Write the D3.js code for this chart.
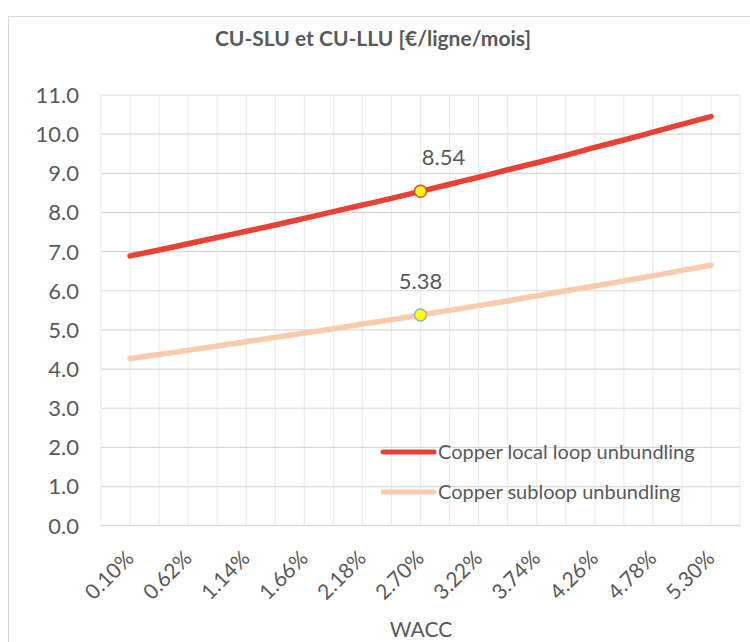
<!DOCTYPE html>
<html>
<head>
<meta charset="utf-8">
<script src="https://cdn.jsdelivr.net/npm/d3@7"></script>
<style>
  body { margin: 0; background: #fff; }
  text { font-family: Lato, "Open Sans", sans-serif; fill: #595959; }
</style>
</head>
<body>
<svg id="chart" width="750" height="642"></svg>
<script>
// WACC categories (every 0.26%), labels shown every second one
const waccCats = [0.10, 0.36, 0.62, 0.88, 1.14, 1.40, 1.66, 1.92, 2.18, 2.44, 2.70,
                  2.96, 3.22, 3.48, 3.74, 4.00, 4.26, 4.52, 4.78, 5.04, 5.30];
const tickLabels = ['0.10%', '0.62%', '1.14%', '1.66%', '2.18%', '2.70%', '3.22%', '3.74%', '4.26%', '4.78%', '5.30%'];
const yTicks = [0, 1, 2, 3, 4, 5, 6, 7, 8, 9, 10, 11];

// values
const llu = [6.89, 7.04, 7.20, 7.36, 7.52, 7.68, 7.85, 8.02, 8.19, 8.36, 8.54,
             8.72, 8.90, 9.09, 9.27, 9.46, 9.66, 9.85, 10.05, 10.25, 10.45];
const slu = [4.27, 4.37, 4.48, 4.59, 4.70, 4.81, 4.92, 5.03, 5.15, 5.26, 5.38,
             5.50, 5.62, 5.74, 5.87, 6.00, 6.12, 6.25, 6.38, 6.52, 6.65];
const seriesNames = ['Copper local loop unbundling', 'Copper subloop unbundling'];
const highlight = 2.70;

const svg = d3.select('#chart');
const plotL = 101, plotR = 740, plotT = 95, plotB = 525.7;

// chart frame
svg.append('rect').attr('x', 8.5).attr('y', 16.5).attr('width', 760).attr('height', 700)
    .attr('fill', '#fff').attr('stroke', '#d9d9d9');

const x = d3.scaleLinear().domain([-0.16, 5.56]).range([plotL, plotR]);
const y = d3.scaleLinear().domain([0, 11]).range([plotB, plotT]);

// vertical gridlines, one per category step
const xGrid = d3.range(23).map(i => -0.16 + i * 0.26);
svg.append('g').selectAll('line').data(xGrid).enter().append('line')
    .attr('x1', d => x(d)).attr('x2', d => x(d)).attr('y1', plotT).attr('y2', plotB)
    .attr('stroke', '#ececec').attr('stroke-width', 1.2);

// horizontal gridlines
svg.append('g').selectAll('line').data(yTicks).enter().append('line')
    .attr('x1', plotL).attr('x2', plotR).attr('y1', d => y(d)).attr('y2', d => y(d))
    .attr('stroke', '#d9d9d9').attr('stroke-width', 1.2);

// y axis labels
svg.append('g').selectAll('text').data(yTicks).enter().append('text')
    .attr('x', 79).attr('y', d => y(d)).attr('dy', '0.36em')
    .attr('text-anchor', 'end').style('font-size', '22px')
    .text(d => d.toFixed(1));

// x axis labels, rotated
svg.append('g').selectAll('text').data(tickLabels).enter().append('text')
    .attr('transform', d => `translate(${x(parseFloat(d)) + 5},${plotB + 34}) rotate(-45)`)
    .attr('text-anchor', 'end').style('font-size', '21px')
    .text(d => d);

svg.append('text').attr('x', 421).attr('y', 637).attr('text-anchor', 'middle')
    .style('font-size', '21px').text('WACC');

svg.append('text').attr('x', 373).attr('y', 46).attr('text-anchor', 'middle')
    .style('font-size', '21px').style('font-weight', 'bold').text('CU-SLU et CU-LLU [€/ligne/mois]');

const line = d3.line().x((d, i) => x(waccCats[i])).y(d => y(d)).curve(d3.curveMonotoneX);
const colors = ['#e94234', '#f8cbad'];
const markerStroke = ['#e94234', '#8fb4c4'];

[llu, slu].forEach((vals, k) => {
    svg.append('path').datum(vals).attr('d', line).attr('fill', 'none')
        .attr('stroke', colors[k]).attr('stroke-width', 5.5).attr('stroke-linecap', 'round');
});

// highlighted points with labels
[llu, slu].forEach((vals, k) => {
    const idx = waccCats.indexOf(highlight);
    const v = vals[idx];
    svg.append('circle').attr('cx', x(highlight)).attr('cy', y(v)).attr('r', 6)
        .attr('fill', '#ffff00').attr('stroke', markerStroke[k]).attr('stroke-width', 1.5);
    svg.append('text').attr('x', x(highlight) + (k === 0 ? 23 : 0)).attr('y', y(v) - 26)
        .attr('text-anchor', 'middle').style('font-size', '22px').text(v.toFixed(2));
});

// legend
seriesNames.forEach((name, k) => {
    const ly = 452 + k * 40;
    svg.append('line').attr('x1', 383).attr('x2', 434).attr('y1', ly).attr('y2', ly)
        .attr('stroke', colors[k]).attr('stroke-width', 5).attr('stroke-linecap', 'round');
    svg.append('text').attr('x', 438).attr('y', ly).attr('dy', '0.36em')
        .style('font-size', '20px').text(name);
});
</script>
</body>
</html>
